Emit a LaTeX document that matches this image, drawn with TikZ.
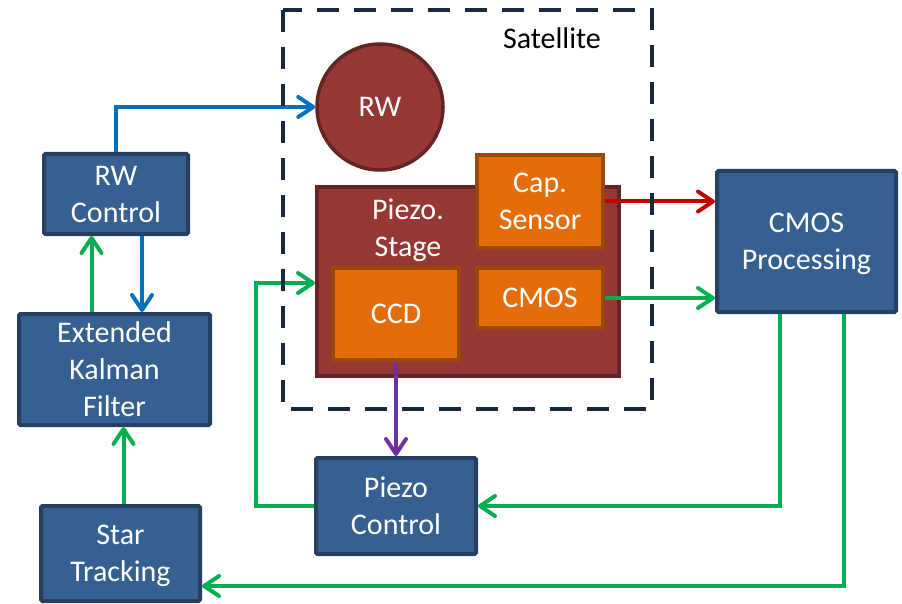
\documentclass[tikz,border=0pt]{standalone}
\usepackage{fontspec}
\setmainfont{Carlito}
\usetikzlibrary{arrows.meta}
\definecolor{bfill}{HTML}{376092}
\definecolor{bdraw}{HTML}{254061}
\definecolor{rfill}{HTML}{953735}
\definecolor{rdraw}{HTML}{632523}
\definecolor{ofill}{HTML}{E46C0A}
\definecolor{odraw}{HTML}{984807}
\definecolor{cgreen}{HTML}{00B050}
\definecolor{cblue}{HTML}{0070C0}
\definecolor{cred}{HTML}{C00000}
\definecolor{cpurple}{HTML}{7030A0}
\definecolor{cnavy}{HTML}{17283F}
\tikzset{
  boxtext/.style={text=white, align=center, text depth=0pt, font=\fontsize{30}{37}\selectfont},
  bluebox/.style={boxtext, draw=bdraw, fill=bfill, line width=4pt, rounded corners=1.5pt, inner sep=0pt},
  redbox/.style={boxtext, draw=rdraw, fill=rfill, line width=4pt, inner sep=0pt},
  orangebox/.style={boxtext, draw=odraw, fill=ofill, line width=4pt, inner sep=0pt},
  conn/.style={line width=4pt, -{Straight Barb[length=15pt,width=20pt,round]}},
  garrow/.style={conn, draw=cgreen},
  barrow/.style={conn, draw=cblue},
  rarrow/.style={conn, draw=cred},
  parrow/.style={conn, draw=cpurple},
}
\begin{document}
\begin{tikzpicture}[x=1pt,y=-1pt]
\useasboundingbox (0,0) rectangle (902,604);
% left column
\node[bluebox, minimum width=144pt, minimum height=80pt] (rwc) at (116,194) {RW\\Control};
\node[bluebox, minimum width=191pt, minimum height=111pt] (ekf) at (114.5,369.5) {Extended\\Kalman\\Filter};
\node[bluebox, minimum width=159pt, minimum height=95pt] (star) at (120.5,553.5) {Star\\Tracking};
% satellite content
\node[redbox, circle, minimum size=126pt, line width=3.5pt] (rw) at (380,107) {RW};
\node[redbox, minimum width=302pt, minimum height=189pt] (stage) at (468,281.5) {};
\node[boxtext] (stagelbl) at (408,228) {Piezo.\\Stage};
\node[orangebox, minimum width=126pt, minimum height=93pt] (cap) at (540,201.5) {Cap.\\Sensor};
\node[orangebox, minimum width=126pt, minimum height=60pt] (cmos) at (540,298) {CMOS};
\node[orangebox, minimum width=126pt, minimum height=92pt] (ccd) at (396,314) {CCD};
% other boxes
\node[bluebox, minimum width=160pt, minimum height=96pt] (pc) at (396,506) {Piezo\\Control};
\node[bluebox, minimum width=179pt, minimum height=141pt] (cmosp) at (806.5,241.5) {CMOS\\Processing};
% connectors
\draw[barrow] (rwc.north) |- (rw.west);
\draw[barrow] ([xshift=26pt]rwc.south) -- ([xshift=26pt]rwc.south |- ekf.north);
\draw[garrow] ([xshift=-23pt]ekf.north) -- ([xshift=-23pt]ekf.north |- rwc.south);
\draw[garrow] ([xshift=3pt]star.north) -- ([xshift=3pt]star.north |- ekf.south);
\coordinate (c1) at (256,283);
\draw[garrow] (pc.west) -| (c1) -- (c1 -| stage.west);
\draw[parrow] (ccd.south) -- (pc.north);
\draw[rarrow] (cap.east) -- (cap.east -| cmosp.west);
\draw[garrow] (cmos.east) -- (cmos.east -| cmosp.west);
\draw[garrow] ([xshift=-26.5pt]cmosp.south) |- (pc.east);
\coordinate (c2) at (844,586);
\draw[garrow] (cmosp.south -| c2) -- (c2) -- (c2 -| star.east);
% satellite boundary
\node[font=\fontsize{30}{37}\selectfont, text=black] (satlbl) at (552,38) {Satellite};
\draw[cnavy, line width=4pt, dash pattern=on 22pt off 15pt] (283,10) rectangle (652,409);
\end{tikzpicture}
\end{document}
